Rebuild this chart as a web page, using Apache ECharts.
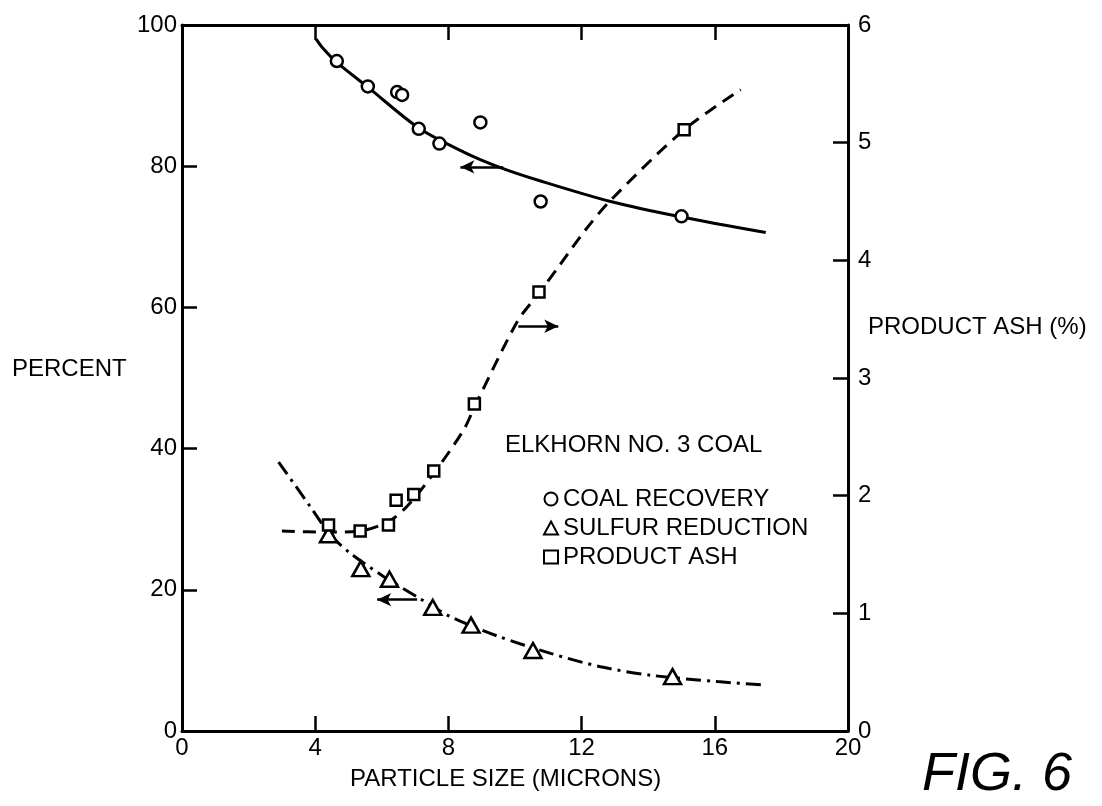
<!DOCTYPE html>
<html>
<head>
<meta charset="utf-8">
<script src="https://cdn.jsdelivr.net/npm/echarts@6/dist/echarts.min.js"></script>
<style>
html,body{margin:0;padding:0;background:#fff;}
#chart{width:1102px;height:806px;}
</style>
</head>
<body>
<div id="chart"></div>
<script>
// ---- data ----
const xTicks = [0, 4, 8, 12, 16, 20];
const leftTicks = [0, 20, 40, 60, 80, 100];
const rightTicks = [0, 1, 2, 3, 4, 5, 6];

const coalX = [4.65, 5.58, 6.46, 6.61, 7.11, 7.73, 8.96, 10.77, 15.0];
const coalY = [94.9, 91.3, 90.5, 90.1, 85.3, 83.2, 86.2, 75.0, 72.9];
const coalCurveX = [4.03, 4.2, 4.65, 5.58, 7.11, 8.46, 9.56, 10.77, 12.87, 15.0, 17.53];
const coalCurveY = [98.0, 96.9, 94.7, 91.2, 85.4, 82.0, 79.8, 77.9, 75.0, 72.8, 70.6];

const sulfurX = [4.4, 5.37, 6.23, 7.53, 8.68, 10.54, 14.73];
const sulfurY = [27.8, 23.0, 21.5, 17.5, 15.0, 11.4, 7.7];
const sulfurCurveX = [2.9, 3.85, 4.45, 5.05, 6.05, 7.06, 8.06, 9.5, 11.07, 12.57, 14.07, 16.08, 17.53];
const sulfurCurveY = [38.1, 31.8, 27.8, 25.2, 21.9, 19.0, 16.2, 13.4, 11.0, 9.1, 7.9, 7.0, 6.5];

const ashX = [4.4, 5.35, 6.2, 6.43, 6.96, 7.56, 8.78, 10.72, 15.08];
const ashV = [1.75, 1.70, 1.75, 1.96, 2.01, 2.21, 2.78, 3.73, 5.11];
const ashCurveX = [3.0, 4.35, 5.35, 6.2, 6.76, 7.56, 8.46, 8.81, 10.07, 10.72, 11.37, 12.12, 12.87, 15.08, 16.78];
const ashCurveV = [1.70, 1.69, 1.70, 1.78, 1.91, 2.19, 2.56, 2.77, 3.48, 3.72, 3.97, 4.26, 4.51, 5.11, 5.45];

// arrow annotations: [fromX, fromY, toX, toY]
const coalArrow = [9.65, 79.9, 8.36, 79.9];
const sulfurArrow = [7.06, 18.6, 5.86, 18.6];
const ashArrow = [10.1, 3.44, 11.3, 3.44];

const titleText = 'ELKHORN NO. 3 COAL';
const seriesNames = ['COAL RECOVERY', 'SULFUR REDUCTION', 'PRODUCT ASH'];
const xName = 'PARTICLE SIZE (MICRONS)';
const leftName = 'PERCENT';
const rightName = 'PRODUCT ASH (%)';
const figText = 'FIG. 6';
// -----------------------------------

const zip = (a, b) => a.map((v, i) => [v, b[i]]);
const FONT = 'Liberation Sans';
const INK = '#000';

function arrowMark(a) {
  return {
    silent: true,
    symbol: ['none', 'arrow'],
    symbolSize: [10, 14],
    label: {show: false},
    lineStyle: {color: INK, width: 2.5, type: 'solid', opacity: 1},
    itemStyle: {color: INK},
    data: [[{coord: [a[0], a[1]]}, {coord: [a[2], a[3]]}]]
  };
}

const chart = echarts.init(document.getElementById('chart'), null, {renderer: 'canvas'});
const axisLabel = {color: INK, fontSize: 24, fontFamily: FONT};
const axLine = {show: true, onZero: false, lineStyle: {color: INK, width: 3}};
const axTick = {show: true, inside: true, length: 15, lineStyle: {color: INK, width: 2.5}};
const markerStyle = {color: '#fff', borderColor: INK, borderWidth: 2.5, opacity: 1};
const option = {
  animation: false,
  backgroundColor: '#fff',
  grid: {left: 182, right: 254, top: 25, bottom: 75},
  xAxis: [
    {
      type: 'value', min: 0, max: 20, interval: 4, position: 'bottom',
      axisLine: axLine, axisTick: axTick,
      axisLabel: Object.assign({margin: 5, formatter: v => xTicks.includes(v) ? String(v) : ''}, axisLabel),
      splitLine: {show: false}
    },
    {
      type: 'value', min: 0, max: 20, interval: 4, position: 'top',
      axisLine: axLine, axisTick: axTick,
      axisLabel: {show: false},
      splitLine: {show: false}
    }
  ],
  yAxis: [
    {
      type: 'value', min: 0, max: 100, interval: 20, position: 'left',
      axisLine: axLine, axisTick: axTick,
      axisLabel: Object.assign({margin: 5, formatter: v => leftTicks.includes(v) ? String(v) : ''}, axisLabel),
      splitLine: {show: false}
    },
    {
      type: 'value', min: 0, max: 6, interval: 1, position: 'right',
      axisLine: axLine, axisTick: axTick,
      axisLabel: Object.assign({margin: 10, formatter: v => rightTicks.includes(v) ? String(v) : ''}, axisLabel),
      splitLine: {show: false}
    }
  ],
  legend: {
    orient: 'vertical', left: 538, top: 482,
    itemWidth: 14, itemHeight: 13, itemGap: 5,
    data: seriesNames,
    textStyle: {color: INK, fontSize: 24, fontFamily: FONT},
    selectedMode: false
  },
  graphic: [
    {type: 'text', left: 505, top: 433, style: {text: titleText, fill: INK, font: '24px "Liberation Sans"'}},
    {type: 'text', left: 12, top: 357, style: {text: leftName, fill: INK, font: '24px "Liberation Sans"'}},
    {type: 'text', left: 868, top: 315, style: {text: rightName, fill: INK, font: '24px "Liberation Sans"'}},
    {type: 'text', left: 350, top: 767, style: {text: xName, fill: INK, font: '24px "Liberation Sans"'}},
    {type: 'text', left: 922, top: 748, style: {text: figText, fill: INK, font: 'italic 54px "Liberation Sans"'}}
  ],
  series: [
    {
      type: 'line', name: 'coal curve', data: zip(coalCurveX, coalCurveY),
      smooth: 0.3, showSymbol: false, silent: true,
      lineStyle: {color: INK, width: 3},
      markLine: arrowMark(coalArrow), z: 2
    },
    {
      type: 'line', name: 'sulfur curve', data: zip(sulfurCurveX, sulfurCurveY),
      smooth: 0.3, showSymbol: false, silent: true,
      lineStyle: {color: INK, width: 3, type: [15, 6, 3, 6]},
      markLine: arrowMark(sulfurArrow), z: 2
    },
    {
      type: 'line', name: 'ash curve', yAxisIndex: 1, data: zip(ashCurveX, ashCurveV),
      smooth: 0.3, showSymbol: false, silent: true,
      lineStyle: {color: INK, width: 3, type: [13, 8]},
      markLine: arrowMark(ashArrow), z: 2
    },
    {
      type: 'scatter', name: seriesNames[0], data: zip(coalX, coalY),
      symbol: 'circle', symbolSize: 12, z: 5, itemStyle: markerStyle
    },
    {
      type: 'scatter', name: seriesNames[1], data: zip(sulfurX, sulfurY),
      symbol: 'triangle', symbolSize: [17, 15], z: 5, itemStyle: markerStyle
    },
    {
      type: 'scatter', name: seriesNames[2], yAxisIndex: 1, data: zip(ashX, ashV),
      symbol: 'rect', symbolSize: 11, z: 5, itemStyle: markerStyle
    }
  ]
};
chart.setOption(option);
</script>
</body>
</html>
